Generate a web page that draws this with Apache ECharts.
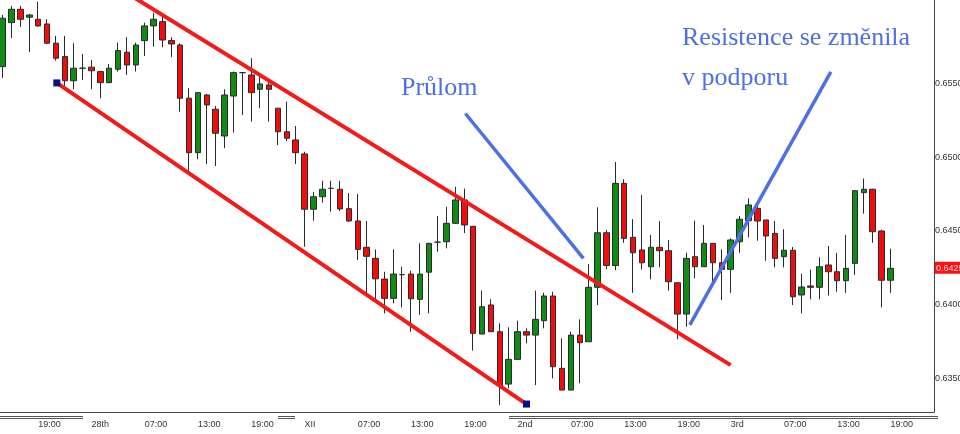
<!DOCTYPE html>
<html>
<head>
<meta charset="utf-8">
<script src="https://cdn.jsdelivr.net/npm/echarts@6/dist/echarts.min.js"></script>
<style>html,body{margin:0;padding:0;background:#fff}#c{width:960px;height:434px}</style>
</head>
<body>
<div id="c"></div>
<script>
// Hourly candles (index 0..100)
var opens = [0.65618,0.65917,0.66008,0.65954,0.65940,0.65908,0.65777,0.65686,0.65522,0.65607,
0.65614,0.65584,0.65509,0.65600,0.65716,0.65629,0.65795,0.65895,0.65924,0.65795,
0.65765,0.65403,0.65033,0.65425,0.65328,0.65146,0.65418,0.65577,0.65561,0.65464,
0.65493,0.65335,0.65175,0.65119,0.65024,0.64648,0.64733,0.64790,0.64784,0.64652,
0.64568,0.64389,0.64314,0.64173,0.64042,0.64203,0.64207,0.64035,0.64220,0.64424,
0.64427,0.64552,0.64711,0.64532,0.63799,0.63997,0.63815,0.63459,0.63627,0.63815,
0.63792,0.63890,0.64058,0.63566,0.63418,0.63792,0.63747,0.64117,0.64488,0.64265,
0.64824,0.64457,0.64371,0.64257,0.64389,0.64366,0.64148,0.63935,0.64325,0.64257,
0.64416,0.64284,0.64239,0.64427,0.64570,0.64654,0.64575,0.64484,0.64325,0.64369,
0.64065,0.64126,0.64117,0.64269,0.64223,0.64162,0.64280,0.64761,0.64784,0.64500,
0.64165];
var closes = [0.65947,0.66008,0.65940,0.65969,0.65895,0.65777,0.65675,0.65522,0.65607,0.65607,
0.65590,0.65509,0.65607,0.65727,0.65629,0.65765,0.65895,0.65940,0.65799,0.65772,
0.65403,0.65033,0.65441,0.65357,0.65165,0.65425,0.65577,0.65577,0.65441,0.65500,
0.65464,0.65175,0.65131,0.65033,0.64648,0.64733,0.64784,0.64790,0.64650,0.64568,
0.64375,0.64328,0.64175,0.64042,0.64207,0.64203,0.64039,0.64207,0.64416,0.64424,
0.64552,0.64711,0.64541,0.63804,0.63985,0.63815,0.63446,0.63627,0.63815,0.63792,
0.63899,0.64058,0.63577,0.63418,0.63792,0.63740,0.64117,0.64488,0.64265,0.64824,
0.64450,0.64352,0.64284,0.64389,0.64366,0.64155,0.63935,0.64314,0.64257,0.64416,
0.64284,0.64239,0.64439,0.64580,0.64677,0.64568,0.64466,0.64314,0.64369,0.64053,
0.64119,0.64117,0.64257,0.64223,0.64162,0.64246,0.64774,0.64784,0.64495,0.64165,
0.64246];
var lows = [0.65541,0.65813,0.65888,0.65718,0.65890,0.65772,0.65659,0.65486,0.65464,0.65527,
0.65464,0.65403,0.65505,0.65584,0.65561,0.65584,0.65690,0.65754,0.65750,0.65682,
0.65312,0.64910,0.64988,0.64956,0.64942,0.65063,0.65169,0.65289,0.65244,0.65335,
0.65244,0.65085,0.65112,0.64956,0.64393,0.64570,0.64693,0.64631,0.64636,0.64563,
0.64303,0.64078,0.64037,0.63940,0.64008,0.63980,0.63815,0.63929,0.63940,0.64359,
0.64382,0.64548,0.64486,0.63686,0.63799,0.63815,0.63316,0.63430,0.63627,0.63736,
0.63452,0.63838,0.63498,0.63418,0.63418,0.63464,0.63747,0.63997,0.64241,0.64233,
0.64420,0.64080,0.64239,0.64171,0.64253,0.64094,0.63763,0.63849,0.64178,0.64257,
0.64155,0.64031,0.64080,0.64352,0.64457,0.64434,0.64298,0.64253,0.64253,0.63997,
0.63940,0.64035,0.64035,0.64061,0.64087,0.64080,0.64201,0.64618,0.64420,0.63981,
0.64080];
var highs = [0.65969,0.66031,0.66031,0.65976,0.66060,0.65940,0.65827,0.65827,0.65777,0.65704,
0.65663,0.65588,0.65636,0.65781,0.65818,0.65781,0.65917,0.65985,0.65969,0.65818,
0.65777,0.65471,0.65445,0.65432,0.65350,0.65464,0.65584,0.65580,0.65675,0.65548,
0.65534,0.65338,0.65380,0.65214,0.65039,0.64765,0.64842,0.64842,0.64842,0.64758,
0.64752,0.64568,0.64375,0.64223,0.64375,0.64257,0.64231,0.64416,0.64420,0.64602,
0.64665,0.64801,0.64788,0.64534,0.64094,0.64035,0.63872,0.63845,0.63890,0.63838,
0.64094,0.64080,0.64087,0.63770,0.63815,0.63899,0.64275,0.64661,0.64507,0.64969,
0.64852,0.64580,0.64745,0.64473,0.64568,0.64439,0.64148,0.64352,0.64570,0.64541,
0.64416,0.64375,0.64450,0.64602,0.64722,0.64677,0.64575,0.64568,0.64512,0.64391,
0.64210,0.64237,0.64321,0.64398,0.64352,0.64473,0.64778,0.64856,0.64788,0.64509,
0.64380];

// Time axis labels (every 6 candles, starting at candle 4)
var tickIndex = [4,10,16,22,28,34,40,46,52,58,64,70,76,82,88,94,100];
var tickLabels = ['19:00','28th','07:00','13:00','19:00','XII','07:00','13:00','19:00','2nd','07:00','13:00','19:00','3rd','07:00','13:00','19:00'];
var priceTicks = [0.6350,0.6400,0.6450,0.6500,0.6550];
var lastPrice = 0.6425;

// Drawn trend lines: [candle index, price]
var channelUpper = [[12,0.66192],[82,0.63588]];
var channelLower = [[6.1,0.65507],[59,0.63323]];
var breakoutPointer = [[52.12,0.65299],[65.41,0.64314]];
var supportPointer = [[77.40,0.63861],[93.28,0.65582]];

var candleData = opens.map(function(o,i){return [i,o,closes[i],lows[i],highs[i]];});
var yLabelValues = priceTicks.concat([lastPrice]).sort();

var chart = echarts.init(document.getElementById('c'), null, {renderer:'canvas'});
var blue = '#4f6fe2';
var chRed = '#f21a1a';
chart.setOption({
  animation:false,
  backgroundColor:'#ffffff',
  grid:{left:0, top:0, right:26, bottom:22, containLabel:false, outerBoundsMode:'none'},
  xAxis:{
    type:'value', min:-0.3, max:104.9,
    axisLine:{show:true, onZero:false, lineStyle:{color:'#444', width:1}},
    axisTick:{show:false},
    splitLine:{show:false},
    axisLabel:{
      customValues:tickIndex, hideOverlap:false,
      formatter:function(v){var k=tickIndex.indexOf(Math.round(v));return k>=0?tickLabels[k]:'';},
      align:'left', margin:8, color:'#333', fontSize:9, fontFamily:'Liberation Sans'
    }
  },
  yAxis:{
    type:'value', position:'right', min:0.63269, max:0.66071, scale:true,
    axisLine:{show:true, onZero:false, lineStyle:{color:'#444', width:1}},
    axisTick:{show:false},
    splitLine:{show:false},
    axisLabel:{
      customValues:yLabelValues, hideOverlap:false,
      formatter:function(v){
        var s = v.toFixed(4);
        return Math.abs(v-lastPrice)<1e-7 ? '{cur|'+s+'}' : s;
      },
      rich:{cur:{backgroundColor:'#ff1010', color:'#ffdede', fontSize:9, fontFamily:'Liberation Sans', padding:[2,4,1,1]}},
      align:'left', margin:1, color:'#333', fontSize:9, fontFamily:'Liberation Sans'
    }
  },
  series:[
    {
      type:'candlestick',
      data:candleData,
      encode:{x:0, y:[1,2,3,4]},
      barWidth:6,
      itemStyle:{
        color:'#128a16', color0:'#f00d0d',
        borderColor:'#2a2a2a', borderColor0:'#2a2a2a', borderColorDoji:'#2a2a2a',
        borderWidth:1
      },
      z:2
    },
    {type:'line', data:channelUpper, symbol:'none', lineStyle:{color:chRed, width:4}, z:5, silent:true},
    {type:'line', data:channelLower, symbol:'rect', symbolSize:7, showSymbol:true,
      itemStyle:{color:'#0c0c88'}, lineStyle:{color:chRed, width:4}, z:5, silent:true},
    {type:'line', data:breakoutPointer, symbol:'none', lineStyle:{color:blue, width:3.5}, z:6, silent:true},
    {type:'line', data:supportPointer, symbol:'none', lineStyle:{color:blue, width:3.5}, z:6, silent:true}
  ],
  graphic:[
    {type:'text', x:401, y:88, style:{text:'Průlom', font:'26px "Liberation Serif"', fill:blue, verticalAlign:'middle'}},
    {type:'text', x:682, y:38, style:{text:'Resistence se změnila', font:'26px "Liberation Serif"', fill:blue, verticalAlign:'middle'}},
    {type:'text', x:682, y:78, style:{text:'v podporu', font:'26px "Liberation Serif"', fill:blue, verticalAlign:'middle'}},
    {type:'line', shape:{x1:0,y1:416.5,x2:83,y2:416.5}, style:{stroke:'#555',lineWidth:1}},
    {type:'line', shape:{x1:0,y1:418.5,x2:83,y2:418.5}, style:{stroke:'#555',lineWidth:1}},
    {type:'line', shape:{x1:278,y1:416.5,x2:295,y2:416.5}, style:{stroke:'#555',lineWidth:1}},
    {type:'line', shape:{x1:278,y1:418.5,x2:295,y2:418.5}, style:{stroke:'#555',lineWidth:1}},
    {type:'line', shape:{x1:509,y1:416.5,x2:938,y2:416.5}, style:{stroke:'#555',lineWidth:1}},
    {type:'line', shape:{x1:509,y1:418.5,x2:938,y2:418.5}, style:{stroke:'#555',lineWidth:1}}
  ]
});
</script>
</body>
</html>
